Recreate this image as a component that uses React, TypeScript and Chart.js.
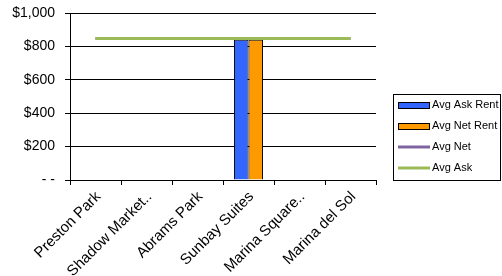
import React, { useEffect, useRef } from "react";
import { Chart, registerables } from "chart.js";
Chart.register(...registerables);

const categories = ["Preston Park", "Shadow Market..", "Abrams Park", "Sunbay Suites", "Marina Square..", "Marina del Sol"];
const avgAskRent = [null, null, null, 840, null, null];
const avgNetRent = [null, null, null, 840, null, null];
const avgNet = [847, 847, 847, 847, 847, 847];
const avgAsk = [847, 847, 847, 847, 847, 847];
const yTicks = [0, 200, 400, 600, 800, 1000];

const FONT = "'Liberation Sans', Arial, sans-serif";

const legendPlugin = {
  id: "customLegend",
  afterDraw(chart: any) {
    const ctx = chart.ctx;
    const x = 393, y = 94, w = 107, h = 86;
    ctx.save();
    ctx.fillStyle = "#fff";
    ctx.fillRect(x, y, w, h);
    ctx.strokeStyle = "#000";
    ctx.lineWidth = 1;
    ctx.strokeRect(x + 0.5, y + 0.5, w, h);
    ctx.font = `11px ${FONT}`;
    ctx.textBaseline = "middle";
    const items = chart.data.datasets;
    items.forEach((ds: any, i: number) => {
      const cy = y + 11 + i * 21;
      const sx = x + 5;
      if (ds.type === "line") {
        ctx.strokeStyle = ds.borderColor;
        ctx.lineWidth = 3;
        ctx.beginPath();
        ctx.moveTo(sx, cy);
        ctx.lineTo(sx + 32, cy);
        ctx.stroke();
      } else {
        ctx.fillStyle = ds.backgroundColor;
        ctx.fillRect(sx, cy - 3, 32, 6);
        ctx.strokeStyle = "#000";
        ctx.lineWidth = 1;
        ctx.strokeRect(sx + 0.5, cy - 3 + 0.5, 31, 6);
      }
      ctx.fillStyle = "#000";
      ctx.fillText(ds.label, sx + 34, cy);
    });
    ctx.restore();
  },
};

export default function App() {
  const ref = useRef<HTMLCanvasElement>(null);
  useEffect(() => {
    document.body.style.margin = "0";
    const chart = new Chart(ref.current!, {
      type: "bar",
      data: {
        labels: categories,
        datasets: [
          { type: "bar", label: "Avg Ask Rent", data: avgAskRent, backgroundColor: "#3366FF", borderColor: "#000", borderWidth: 1, order: 3 },
          { type: "bar", label: "Avg Net Rent", data: avgNetRent, backgroundColor: "#FF9900", borderColor: "#000", borderWidth: 1, order: 3 },
          { type: "line", label: "Avg Net", data: avgNet, borderColor: "#8064A2", borderWidth: 3, pointRadius: 0, order: 2 },
          { type: "line", label: "Avg Ask", data: avgAsk, borderColor: "#9BBB59", borderWidth: 3, pointRadius: 0, order: 1 },
        ] as any,
      },
      options: {
        animation: false,
        responsive: false,
        layout: { padding: { top: 13, right: 126, left: 0, bottom: 0 } },
        plugins: { legend: { display: false }, tooltip: { enabled: false } },
        datasets: { bar: { categoryPercentage: 0.57, barPercentage: 1 } },
        scales: {
          x: {
            offset: true,
            grid: { offset: true, drawOnChartArea: false, color: "#000", tickLength: 5 },
            border: { color: "#000" },
            ticks: { color: "#000", font: { family: FONT, size: 15 }, maxRotation: 45, minRotation: 45, autoSkip: false, padding: 3, labelOffset: 3 },
            afterFit(s: any) { s.height = 96; s.paddingLeft = 0; s.paddingRight = 0; },
          },
          y: {
            min: 0,
            max: 1000,
            afterBuildTicks(s: any) { s.ticks = yTicks.map((v) => ({ value: v })); },
            grid: { color: "#000", tickLength: 5 },
            border: { color: "#000" },
            ticks: {
              color: "#000",
              font: { family: FONT, size: 14 },
              padding: 10,
              callback: (v: any) => (v === 0 ? "- -" : "$" + Number(v).toLocaleString("en-US")),
            },
            afterFit(s: any) { s.width = 70; s.paddingTop = 0; s.paddingBottom = 0; },
          },
        },
      },
      plugins: [legendPlugin],
    });
    return () => chart.destroy();
  }, []);
  return (
    <div style={{ width: 502, height: 276 }}>
      <canvas ref={ref} width={502} height={276} style={{ width: 502, height: 276, display: "block" }} />
    </div>
  );
}
